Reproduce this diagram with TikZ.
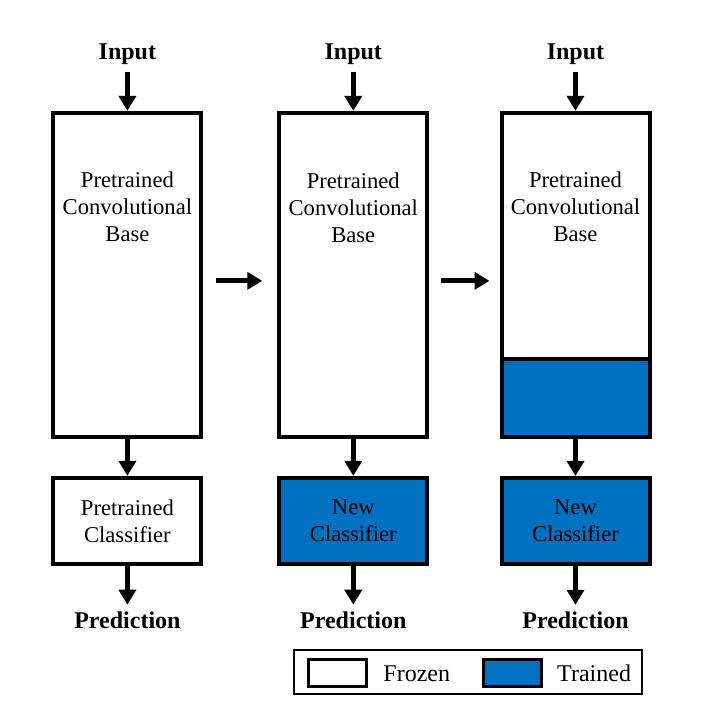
\documentclass[tikz,border=0pt]{standalone}
\usepackage{fontspec}
\setmainfont{Liberation Serif}
\usetikzlibrary{arrows.meta,positioning}
\definecolor{trainblue}{RGB}{0,112,192}
\newcommand\boxfont{\fontsize{11.3}{13.5}\selectfont}
\newcommand\iofont{\bfseries\fontsize{12}{14}\selectfont}
\newcommand\keyfont{\fontsize{12}{14}\selectfont}

\begin{document}
\begin{tikzpicture}[x=0.5pt,y=-0.5pt,
    block/.style={draw,line width=2pt,minimum width=74pt,inner sep=0pt},
    frozen/.style={block,fill=white},
    trained/.style={block,fill=trainblue},
    conv/.style={minimum height=162pt},
    clf/.style={minimum height=43pt,align=center,font=\boxfont},
    lbl/.style={align=center,inner sep=0pt,font=\boxfont},
    io/.style={font=\iofont},
    arr/.style={-{Triangle[width=8.5pt,length=7.5pt]},line width=2.5pt},
    swatch/.style={draw,line width=1.5pt,minimum width=29pt,minimum height=13.5pt}]

  \useasboundingbox (0,0) rectangle (703,725);

  % feature extraction
  \node[frozen,conv] (base1) at (127.4,274.85) {};
  \node[lbl,below=30.3pt of base1.north] (txt1) {Pretrained\\Convolutional\\Base};
  \node[frozen,clf,below=18.5pt of base1] (clf1) {Pretrained\\Classifier};
  \node[io,above=19.5pt of base1] (in1) {Input};
  \node[io,below=19.4pt of clf1] (out1) {Prediction};

  % new classifier
  \node[frozen,conv] (base2) at (353.3,274.85) {};
  \node[lbl,below=31pt of base2.north] (txt2) {Pretrained\\Convolutional\\Base};
  \node[trained,clf,below=18.5pt of base2] (clf2) {New\\Classifier};
  \node[io,above=19.5pt of base2] (in2) {Input};
  \node[io,below=19.4pt of clf2] (out2) {Prediction};

  % fine tuning
  \node[frozen,minimum height=123.1pt] (up3) at (575.5,235.85) {};
  \node[trained,minimum height=39pt,below=-2pt of up3] (tune3) {};
  \node[lbl,below=30.3pt of up3.north] (txt3) {Pretrained\\Convolutional\\Base};
  \node[trained,clf,below=18.5pt of tune3] (clf3) {New\\Classifier};
  \node[io,above=19.5pt of up3] (in3) {Input};
  \node[io,below=19.4pt of clf3] (out3) {Prediction};

  \draw[arr] (in1) -- (base1);
  \draw[arr] (base1) -- (clf1);
  \draw[arr] (clf1) -- (out1);
  \draw[arr] (in2) -- (base2);
  \draw[arr] (base2) -- (clf2);
  \draw[arr] (clf2) -- (out2);
  \draw[arr] (in3) -- (up3);
  \draw[arr] (tune3) -- (clf3);
  \draw[arr] (clf3) -- (out3);

  \coordinate (gap3) at (base2.east -| up3.west);
  \draw[arr] ([shift={(13,6)}]base1.east) -- ([shift={(-15,6)}]base2.west);
  \draw[arr] ([shift={(12,6)}]base2.east) -- ([shift={(-10,6)}]gap3);

  % legend
  \node[draw,line width=1pt,minimum width=174.3pt,minimum height=22pt] (legend) at (468,672) {};
  \node[swatch,fill=white] (keyfrozen) at (337.5,673.3) {};
  \node[font=\keyfont,right=4.2pt of keyfrozen] (txtfrozen) {Frozen};
  \node[swatch,fill=trainblue,right=12.5pt of txtfrozen] (keytrained) {};
  \node[font=\keyfont,right=3.5pt of keytrained] (txttrained) {Trained};

\end{tikzpicture}
\end{document}
